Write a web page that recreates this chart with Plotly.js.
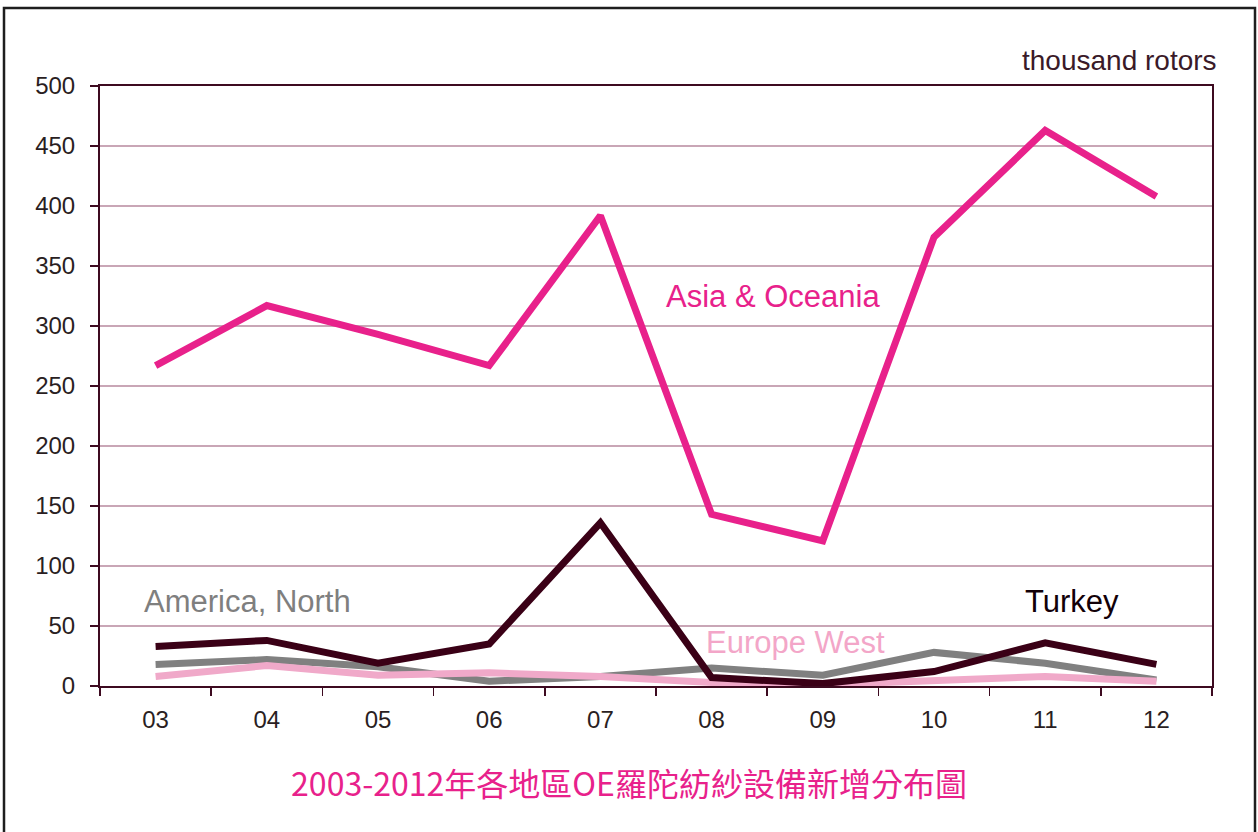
<!DOCTYPE html>
<html>
<head>
<meta charset="utf-8">
<script src="https://cdn.plot.ly/plotly-3.0.1.min.js"></script>
<style>
  html, body { margin: 0; padding: 0; background: #ffffff; }
  #chart { width: 1258px; height: 832px; }
</style>
</head>
<body>
<div id="chart"></div>
<script>
// Categories (years 2003-2012)
const years = ['03', '04', '05', '06', '07', '08', '09', '10', '11', '12'];

// Series values, thousand rotors
const asiaOceania  = [267, 317, 293, 267, 392, 143, 121, 374, 463, 408];
const turkey       = [33, 38, 19, 35, 136, 7, 2, 12, 36, 18];
const americaNorth = [18, 22, 16, 4, 8, 15, 9, 28, 19, 5];
const europeWest   = [8, 17, 9, 11, 8, 3, 1, 4, 8, 4];

// Tick labels / texts
const yTickVals = [0, 50, 100, 150, 200, 250, 300, 350, 400, 450, 500];
const unitLabel = 'thousand rotors';
const chartTitle = '2003-2012年各地區OE羅陀紡紗設備新增分布圖';
const seriesNames = ['Asia & Oceania', 'Turkey', 'America, North', 'Europe West'];

const axisColor = '#3d0a20';
const gridColor = '#c9a6b6';
const tickFont = { family: 'Liberation Sans, Arial, sans-serif', size: 24, color: '#2a1e22' };

const traces = [
  { x: years, y: americaNorth, name: seriesNames[2], type: 'scatter', mode: 'lines',
    line: { color: '#808080', width: 7 } },
  { x: years, y: europeWest, name: seriesNames[3], type: 'scatter', mode: 'lines',
    line: { color: '#f0a9c9', width: 7 } },
  { x: years, y: turkey, name: seriesNames[1], type: 'scatter', mode: 'lines',
    line: { color: '#3a0016', width: 7 } },
  { x: years, y: asiaOceania, name: seriesNames[0], type: 'scatter', mode: 'lines',
    line: { color: '#e8218b', width: 7 } }
];

// plot area: x 100..1212 px, y 86..686 px
const L = 100, R = 1212, T = 86, B = 686;
const px = v => (v - L) / (R - L);
const py = v => (B - v) / (B - T);

const labelFont = (c) => ({ family: 'Liberation Sans, Arial, sans-serif', size: 31, color: c });

const layout = {
  width: 1258, height: 832,
  margin: { l: L, r: 1258 - R, t: T, b: 832 - B, pad: 0 },
  paper_bgcolor: '#ffffff', plot_bgcolor: '#ffffff',
  showlegend: false,
  title: {
    text: chartTitle,
    font: { family: 'Noto Sans CJK TC, sans-serif', size: 32, color: '#e8218b' },
    x: 629 / 1258, xanchor: 'center', xref: 'container',
    y: 1 - 785 / 832, yanchor: 'middle', yref: 'container'
  },
  xaxis: {
    type: 'category', categoryorder: 'array', categoryarray: years,
    range: [-0.5, 9.5], fixedrange: true,
    showline: true, linecolor: axisColor, linewidth: 2, mirror: true,
    ticks: 'outside', tickson: 'boundaries', ticklen: 8, tickcolor: axisColor, tickwidth: 1.5,
    showgrid: false, zeroline: false,
    tickfont: tickFont, ticklabelstandoff: 11
  },
  yaxis: {
    range: [0, 500], tickvals: yTickVals, ticktext: yTickVals.map(String), fixedrange: true,
    showline: true, linecolor: axisColor, linewidth: 2, mirror: true,
    ticks: 'outside', ticklen: 8, tickcolor: axisColor, tickwidth: 1.5,
    showgrid: true, gridcolor: gridColor, gridwidth: 1.5, zeroline: false,
    tickfont: tickFont, ticklabelstandoff: 10
  },
  annotations: [
    { text: unitLabel, xref: 'paper', yref: 'paper', x: px(1219), y: py(61),
      xanchor: 'right', yanchor: 'middle', showarrow: false,
      font: { family: 'Liberation Sans, Arial, sans-serif', size: 28, color: '#3a1a28' } },
    { text: seriesNames[0], xref: 'paper', yref: 'paper', x: px(664), y: py(296),
      xanchor: 'left', yanchor: 'middle', showarrow: false, font: labelFont('#e8218b') },
    { text: seriesNames[2], xref: 'paper', yref: 'paper', x: px(142), y: py(601),
      xanchor: 'left', yanchor: 'middle', showarrow: false, font: labelFont('#7f7f7f') },
    { text: seriesNames[1], xref: 'paper', yref: 'paper', x: px(1023), y: py(601),
      xanchor: 'left', yanchor: 'middle', showarrow: false, font: labelFont('#120008') },
    { text: seriesNames[3], xref: 'paper', yref: 'paper', x: px(704), y: py(642),
      xanchor: 'left', yanchor: 'middle', showarrow: false, font: labelFont('#f3a6c8') }
  ],
  shapes: [
    { type: 'rect', xref: 'paper', yref: 'paper', layer: 'above',
      x0: px(4), x1: px(1255), y0: py(836), y1: py(8),
      line: { color: '#1e1e1e', width: 2.5 }, fillcolor: 'rgba(0,0,0,0)' }
  ]
};

Plotly.newPlot('chart', traces, layout, { displayModeBar: false, staticPlot: true });
</script>
</body>
</html>
